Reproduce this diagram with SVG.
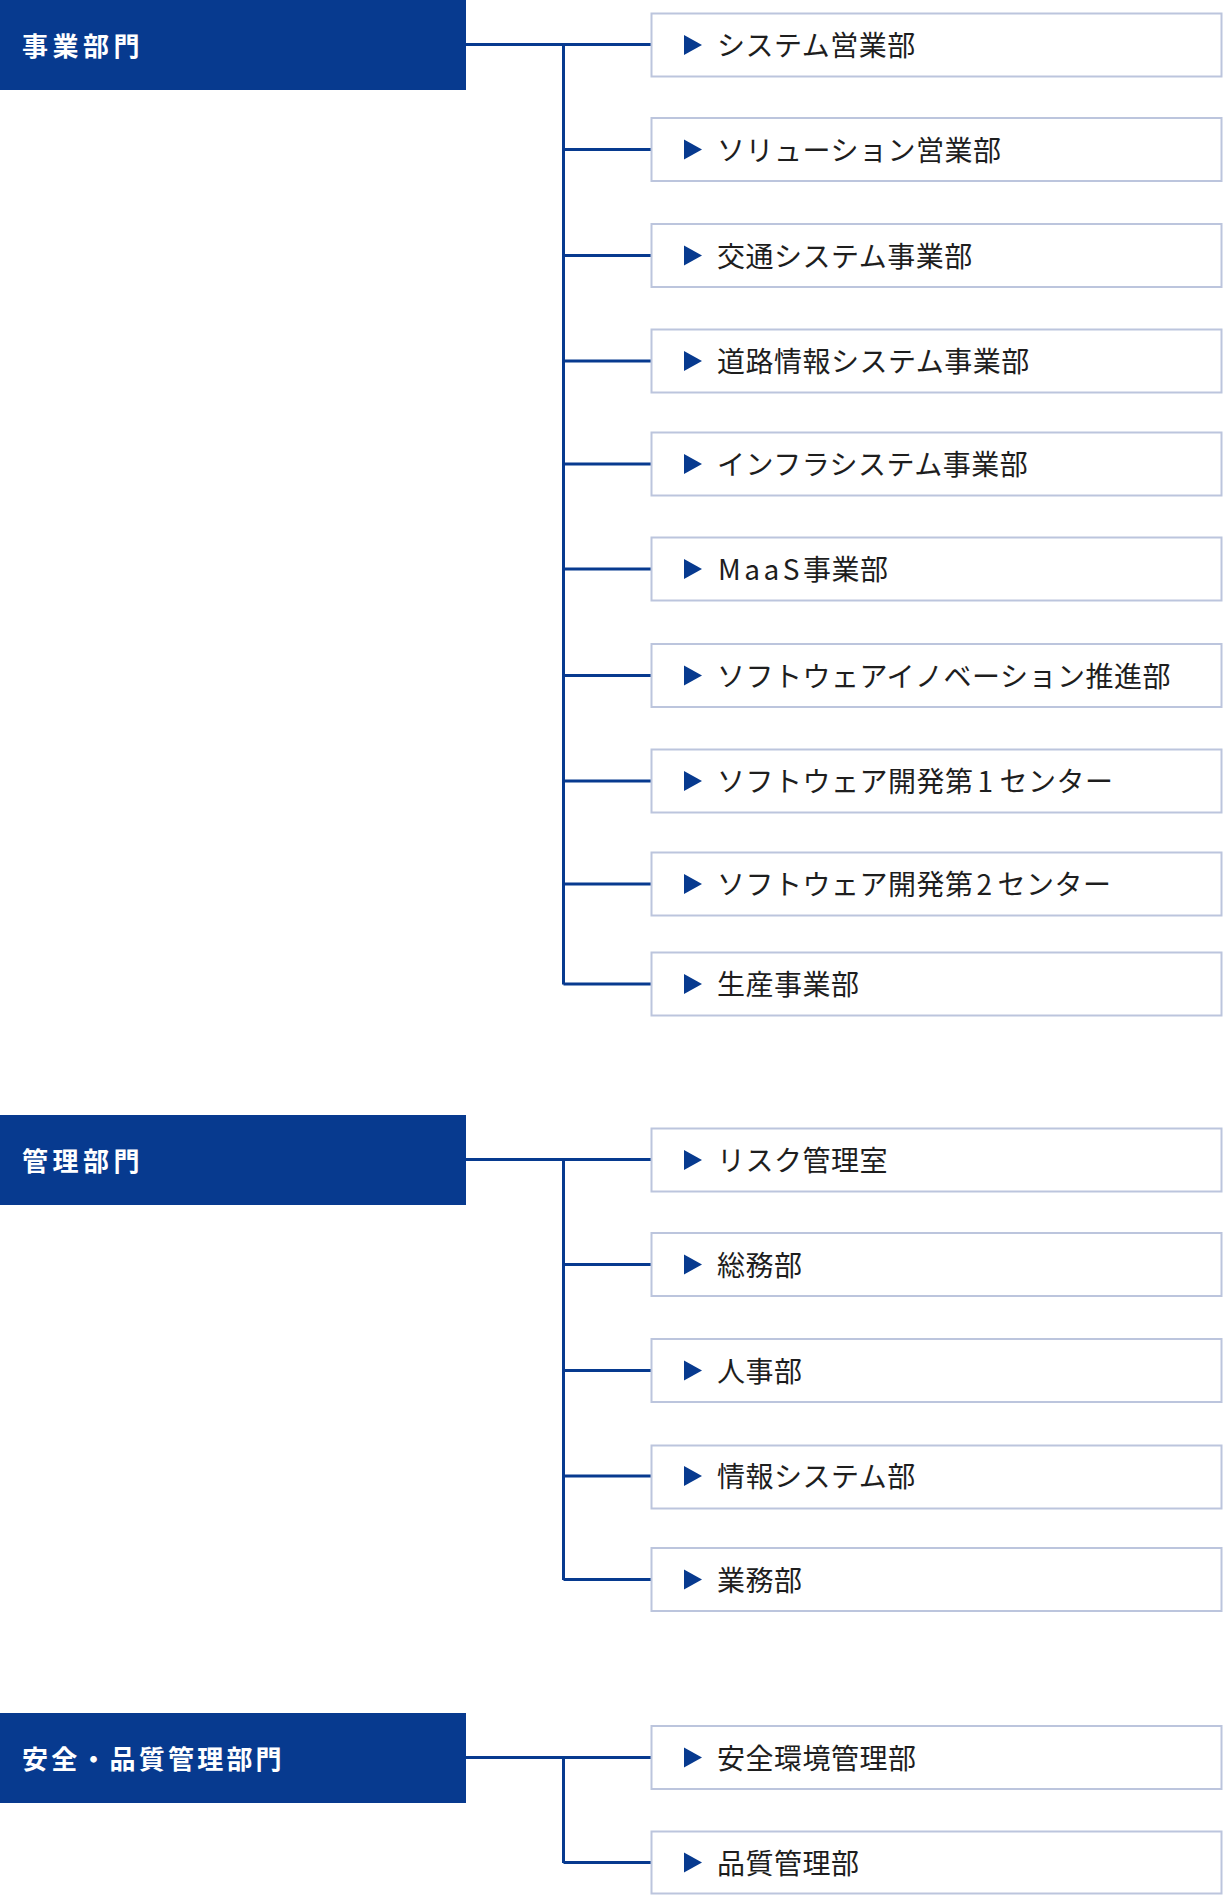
<svg xmlns="http://www.w3.org/2000/svg" width="1223" height="1896" viewBox="0 0 1223 1896">
<defs>
<style>
.hd{fill:#073A8F}
.ht{fill:#FFFFFF;font-family:"Noto Sans CJK JP","Noto Sans",sans-serif;font-weight:700;font-size:26px;letter-spacing:4.5px}
.bx{fill:#FFFFFF;stroke:#BCC5DD;stroke-width:2}
.tri{fill:#073A8F}
.bt{fill:#1E1E1E;font-family:"Noto Sans CJK JP","Noto Sans",sans-serif;font-size:28px;letter-spacing:0.5px}
.ln{fill:none;stroke:#073A8F;stroke-width:3}
</style>
</defs>
<rect width="1223" height="1896" fill="#FFFFFF"/>
<g id="connectors">
<path class="ln" d="M466 44.5H651M563.5 44.5V984.5M563.5 149.5H651M563.5 255.5H651M563.5 361H651M563.5 464H651M563.5 569H651M563.5 675.5H651M563.5 781H651M563.5 884H651M563.5 984H651"/>
<path class="ln" d="M466 1159.5H651M563.5 1159.5V1580M563.5 1264.5H651M563.5 1370.5H651M563.5 1476H651M563.5 1579.5H651"/>
<path class="ln" d="M466 1757.5H651M563.5 1757.5V1863M563.5 1862.5H651"/>
</g>
<g id="h1"><rect class="hd" x="0" y="0" width="466" height="90"/><text class="ht" x="22" y="56">事業部門</text></g>
<g id="h2"><rect class="hd" x="0" y="1115" width="466" height="90"/><text class="ht" x="22" y="1171">管理部門</text></g>
<g id="h3"><rect class="hd" x="0" y="1713" width="466" height="90"/><text class="ht" x="22" y="1769" style="letter-spacing:3.2px">安全・品質管理部門</text></g>
<g id="b1"><rect class="bx" x="651.5" y="13.5" width="570" height="63"/><polygon class="tri" points="684,35 702,45 684,55"/><text class="bt" x="717" y="56">システム営業部</text></g>
<g id="b2"><rect class="bx" x="651.5" y="118" width="570" height="63"/><polygon class="tri" points="684,139.5 702,149.5 684,159.5"/><text class="bt" x="717" y="160.5">ソリューション営業部</text></g>
<g id="b3"><rect class="bx" x="651.5" y="224" width="570" height="63"/><polygon class="tri" points="684,245.5 702,255.5 684,265.5"/><text class="bt" x="717" y="266.5">交通システム事業部</text></g>
<g id="b4"><rect class="bx" x="651.5" y="329.5" width="570" height="63"/><polygon class="tri" points="684,351 702,361 684,371"/><text class="bt" x="717" y="372">道路情報システム事業部</text></g>
<g id="b5"><rect class="bx" x="651.5" y="432.5" width="570" height="63"/><polygon class="tri" points="684,454 702,464 684,474"/><text class="bt" x="717" y="475">インフラシステム事業部</text></g>
<g id="b6"><rect class="bx" x="651.5" y="537.5" width="570" height="63"/><polygon class="tri" points="684,559 702,569 684,579"/><text class="bt" x="718" y="580"><tspan style="letter-spacing:3.5px">MaaS</tspan>事業部</text></g>
<g id="b7"><rect class="bx" x="651.5" y="644" width="570" height="63"/><polygon class="tri" points="684,665.5 702,675.5 684,685.5"/><text class="bt" x="717" y="686.5">ソフトウェアイノベーション推進部</text></g>
<g id="b8"><rect class="bx" x="651.5" y="749.5" width="570" height="63"/><polygon class="tri" points="684,771 702,781 684,791"/><text class="bt" x="717" y="792">ソフトウェア開発第<tspan dx="4">1</tspan><tspan dx="6">センター</tspan></text></g>
<g id="b9"><rect class="bx" x="651.5" y="852.5" width="570" height="63"/><polygon class="tri" points="684,874 702,884 684,894"/><text class="bt" x="717" y="895">ソフトウェア開発第<tspan dx="3">2</tspan><tspan dx="5">センター</tspan></text></g>
<g id="b10"><rect class="bx" x="651.5" y="952.5" width="570" height="63"/><polygon class="tri" points="684,974 702,984 684,994"/><text class="bt" x="717" y="995">生産事業部</text></g>
<g id="b11"><rect class="bx" x="651.5" y="1128.5" width="570" height="63"/><polygon class="tri" points="684,1150 702,1160 684,1170"/><text class="bt" x="717" y="1171">リスク管理室</text></g>
<g id="b12"><rect class="bx" x="651.5" y="1233" width="570" height="63"/><polygon class="tri" points="684,1254.5 702,1264.5 684,1274.5"/><text class="bt" x="717" y="1275.5">総務部</text></g>
<g id="b13"><rect class="bx" x="651.5" y="1339" width="570" height="63"/><polygon class="tri" points="684,1360.5 702,1370.5 684,1380.5"/><text class="bt" x="717" y="1381.5">人事部</text></g>
<g id="b14"><rect class="bx" x="651.5" y="1445.5" width="570" height="63"/><polygon class="tri" points="684,1466 702,1476 684,1486"/><text class="bt" x="717" y="1487">情報システム部</text></g>
<g id="b15"><rect class="bx" x="651.5" y="1548" width="570" height="63"/><polygon class="tri" points="684,1569.5 702,1579.5 684,1589.5"/><text class="bt" x="717" y="1590.5">業務部</text></g>
<g id="b16"><rect class="bx" x="651.5" y="1726" width="570" height="63"/><polygon class="tri" points="684,1747.5 702,1757.5 684,1767.5"/><text class="bt" x="717" y="1768.5">安全環境管理部</text></g>
<g id="b17"><rect class="bx" x="651.5" y="1831.5" width="570" height="62"/><polygon class="tri" points="684,1852.5 702,1862.5 684,1872.5"/><text class="bt" x="717" y="1873.5">品質管理部</text></g>
</svg>
